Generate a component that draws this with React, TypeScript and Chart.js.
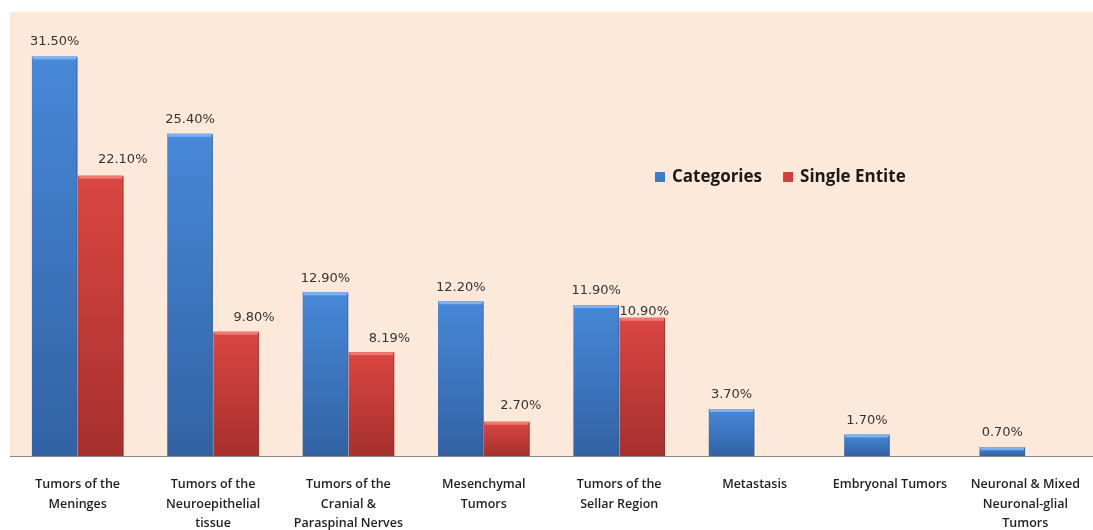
import React, { useEffect, useRef } from "react";
import { Chart, registerables } from "chart.js";

Chart.register(...registerables);

const categories: (string | string[])[] = [
  ["Tumors of the", "Meninges"],
  ["Tumors of the", "Neuroepithelial", "tissue"],
  ["Tumors of the", "Cranial &", "Paraspinal Nerves"],
  ["Mesenchymal", "Tumors"],
  ["Tumors of the", "Sellar Region"],
  "Metastasis",
  "Embryonal Tumors",
  ["Neuronal & Mixed", "Neuronal-glial", "Tumors"],
];

const categoriesValues: (number | null)[] = [31.5, 25.4, 12.9, 12.2, 11.9, 3.7, 1.7, 0.7];
const singleEntiteValues: (number | null)[] = [22.1, 9.8, 8.19, 2.7, 10.9, null, null, null];

const seriesNames = ["Categories", "Single Entite"];

// label offsets (styling): [dx, dy] per dataset / index
const labelOffsets: [number, number][][] = [
  [[0, -15], [0, -14], [0, -14], [0, -14], [0, -14], [0, -14], [0, -14], [0, -14]],
  [[22, -16], [18, -14], [18, -13], [14, -16], [2, -6], [0, 0], [0, 0], [0, 0]],
];

const palette = [
  { top: "#4788D8", bottom: "#3262A4", cap: "#7DB2EE", legend: "#3F7BCB", edge: "#2A538C" },
  { top: "#DB4641", bottom: "#A6302E", cap: "#EE7A75", legend: "#D0403C", edge: "#8A2624" },
];

function barGradient(idx: number) {
  return (ctx: any) => {
    const chart = ctx.chart;
    const area = chart.chartArea;
    const p = palette[idx];
    if (!area || ctx.raw == null || !chart.scales?.y) return p.top;
    const yTop = chart.scales.y.getPixelForValue(ctx.raw);
    const g = chart.ctx.createLinearGradient(0, yTop, 0, area.bottom);
    g.addColorStop(0, p.top);
    g.addColorStop(1, p.bottom);
    return g;
  };
}

const bgPlugin = {
  id: "bgPlugin",
  beforeDraw(chart: any) {
    const { ctx, chartArea } = chart;
    ctx.save();
    ctx.fillStyle = "#FDE9D9";
    ctx.fillRect(chartArea.left, chartArea.top, chartArea.right - chartArea.left, chartArea.bottom - chartArea.top);
    ctx.restore();
  },
};

const decoPlugin = {
  id: "decoPlugin",
  afterDatasetsDraw(chart: any) {
    const { ctx } = chart;
    ctx.save();
    chart.data.datasets.forEach((ds: any, di: number) => {
      const meta = chart.getDatasetMeta(di);
      meta.data.forEach((bar: any, i: number) => {
        const v = ds.data[i];
        if (v == null) return;
        const w = bar.width;
        ctx.fillStyle = palette[di].cap;
        ctx.fillRect(bar.x - w / 2 + 1, bar.y, w - 2, 3);
        ctx.fillStyle = palette[di].edge;
        ctx.globalAlpha = 0.5;
        ctx.fillRect(bar.x + w / 2 - 1, bar.y + 1, 1, bar.base - bar.y - 1);
        ctx.globalAlpha = 1;
        const off = labelOffsets[di][i];
        ctx.fillStyle = "#333333";
        ctx.font = "13px 'DejaVu Sans'";
        ctx.textAlign = "center";
        ctx.textBaseline = "middle";
        ctx.fillText(v.toFixed(2) + "%", bar.x + off[0], bar.y + off[1]);
      });
    });
    ctx.restore();
  },
};

const legendPlugin = {
  id: "legendPlugin",
  afterDraw(chart: any) {
    const { ctx, chartArea } = chart;
    ctx.save();
    ctx.font = "bold 17px 'Open Sans'";
    ctx.textBaseline = "middle";
    ctx.textAlign = "left";
    let x = chartArea.left + 645;
    const y = chartArea.top + 165;
    seriesNames.forEach((name, i) => {
      ctx.fillStyle = palette[i].legend;
      ctx.fillRect(x, y - 5, 10, 10);
      ctx.fillStyle = "#1a1a1a";
      ctx.fillText(name, x + 17, y);
      x += 17 + ctx.measureText(name).width + 21;
    });
    ctx.restore();
  },
};

export default function App() {
  const ref = useRef<HTMLCanvasElement | null>(null);
  useEffect(() => {
    if (!ref.current) return;
    const chart = new Chart(ref.current, {
      type: "bar",
      data: {
        labels: categories,
        datasets: [
          {
            label: seriesNames[0],
            data: categoriesValues,
            backgroundColor: barGradient(0),
            categoryPercentage: 0.68,
            barPercentage: 0.99,
          },
          {
            label: seriesNames[1],
            data: singleEntiteValues,
            backgroundColor: barGradient(1),
            categoryPercentage: 0.68,
            barPercentage: 0.99,
          },
        ],
      },
      options: {
        animation: false,
        responsive: true,
        maintainAspectRatio: false,
        layout: { padding: { top: 12, left: 10, right: 0, bottom: 0 } },
        plugins: {
          legend: { display: false },
          tooltip: { enabled: false },
        },
        scales: {
          x: {
            grid: { display: false },
            border: { display: true, color: "#8c8c8c", width: 1 },
            afterFit: (scale: any) => {
              scale.height = 74;
            },
            ticks: {
              color: "#1f1f1f",
              font: { family: "'Open Sans'", size: 12.5, weight: 600, lineHeight: 1.55 },
              padding: 11,
              maxRotation: 0,
              autoSkip: false,
            },
          },
          y: {
            display: false,
            min: 0,
            max: 35,
          },
        },
      },
      plugins: [bgPlugin, decoPlugin, legendPlugin],
    });
    return () => chart.destroy();
  }, []);
  return (
    <div style={{ position: "absolute", left: 0, top: 0, width: 1093, height: 530, background: "#ffffff" }}>
      <canvas ref={ref} />
    </div>
  );
}
